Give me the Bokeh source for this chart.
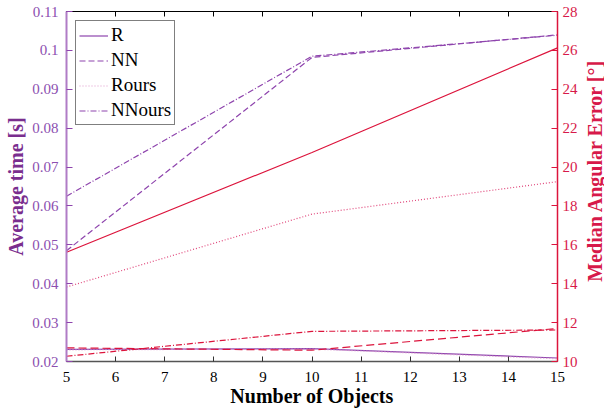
import math
from bokeh.plotting import figure
from bokeh.layouts import row
from bokeh.models import Range1d, LinearAxis, FixedTicker, Label
from bokeh.embed import file_html
from bokeh.resources import INLINE

# ---- data ----
objects = [5, 10, 15]
time_R = [0.0231, 0.0233, 0.0209]
time_NN = [0.0485, 0.0982, 0.1040]
time_Rours = [0.0230, 0.0232, 0.0207]
time_NNours = [0.0625, 0.0985, 0.1039]
err_R = [15.62, 20.75, 26.13]
err_NN = [10.70, 10.58, 11.70]
err_Rours = [13.83, 17.58, 19.25]
err_NNours = [10.27, 11.55, 11.62]

x_ticks = [5, 6, 7, 8, 9, 10, 11, 12, 13, 14, 15]
y_ticks = [0.02, 0.03, 0.04, 0.05, 0.06, 0.07, 0.08, 0.09, 0.1, 0.11]
y_tick_labels = ["0.02", "0.03", "0.04", "0.05", "0.06", "0.07", "0.08", "0.09", "0.1", "0.11"]
err_ticks = [10, 12, 14, 16, 18, 20, 22, 24, 26, 28]
right_title = "Median Angular Error [°]"

PURPLE = "#8e44ad"
PURPLE_TXT = "#8c4fb0"
PURPLE_TITLE = "#7a2e8e"
PURPLE_AXIS = "#b07cc6"
PINK = "#dd99cc"
CRIMSON = "#dc143c"
CRIMSON_DOT = "#e0457a"
CRIMSON_TXT = "#d7194a"
FONT = "Liberation Serif"

p = figure(width=580, height=412, x_range=Range1d(5, 15), y_range=Range1d(0.02, 0.11),
           output_backend="svg", toolbar_location=None,
           min_border_left=66, min_border_right=22, min_border_top=11, min_border_bottom=51)
p.extra_y_ranges = {"err": Range1d(10, 28)}
p.outline_line_color = None
p.xgrid.grid_line_color = None
p.ygrid.grid_line_color = None
p.background_fill_color = "white"
p.border_fill_color = "white"

# time lines (left axis)
p.line(objects, time_R, line_color=PURPLE, line_width=1.2, legend_label="R")
p.line(objects, time_NN, line_color=PURPLE, line_width=1.2, line_dash="6 3", legend_label="NN")
p.line(objects, time_Rours, line_color=PINK, line_width=1.2, line_dash="1 2", legend_label="Rours")
p.line(objects, time_NNours, line_color=PURPLE, line_width=1.2, line_dash="6 2 1 2", legend_label="NNours")

# error lines (right axis)
p.line(objects, err_R, line_color=CRIMSON, line_width=1.2, y_range_name="err")
p.line(objects, err_NN, line_color=CRIMSON, line_width=1.2, line_dash="8 4", y_range_name="err")
p.line(objects, err_Rours, line_color=CRIMSON_DOT, line_width=1.2, line_dash="1 2", y_range_name="err")
p.line(objects, err_NNours, line_color=CRIMSON, line_width=1.2, line_dash="6 2 1 2", y_range_name="err")

# x axis
xa = p.xaxis[0]
xa.ticker = FixedTicker(ticks=x_ticks)
xa.axis_label = "Number of Objects"
xa.axis_label_text_font = FONT
xa.axis_label_text_font_style = "bold"
xa.axis_label_text_font_size = "20px"
xa.axis_label_text_color = "black"
xa.axis_label_standoff = 0
xa.major_label_text_font = FONT
xa.major_label_text_font_size = "15px"
xa.major_label_text_color = "black"
xa.major_label_standoff = 10
xa.major_tick_in = 5
xa.major_tick_out = 0
xa.major_tick_line_color = "#333333"
xa.minor_tick_line_color = None
xa.axis_line_color = "#555555"
xa.axis_line_width = 1.5

# left axis
ya = p.yaxis[0]
ya.ticker = FixedTicker(ticks=y_ticks)
ya.major_label_overrides = {t: s for t, s in zip(y_ticks, y_tick_labels)}
ya.axis_label = "Average time [s]"
ya.axis_label_text_font = FONT
ya.axis_label_text_font_style = "bold"
ya.axis_label_text_font_size = "20px"
ya.axis_label_text_color = PURPLE_TITLE
ya.axis_label_standoff = 2
ya.major_label_text_font = FONT
ya.major_label_text_font_size = "15px"
ya.major_label_text_color = PURPLE_TXT
ya.major_label_standoff = 8
ya.major_tick_in = 6
ya.major_tick_out = 0
ya.major_tick_line_color = PURPLE
ya.minor_tick_line_color = None
ya.axis_line_color = PURPLE_AXIS
ya.axis_line_width = 2

# right axis
ra = LinearAxis(y_range_name="err", ticker=FixedTicker(ticks=err_ticks))
ra.major_label_text_font = FONT
ra.major_label_text_font_size = "15px"
ra.major_label_text_color = CRIMSON_TXT
ra.major_label_standoff = 5
ra.major_tick_in = 6
ra.major_tick_out = 0
ra.major_tick_line_color = CRIMSON
ra.minor_tick_line_color = None
ra.axis_line_color = CRIMSON
ra.axis_line_width = 1.5
p.add_layout(ra, "right")

# top axis (frame line with inward ticks, no labels)
ta = LinearAxis(ticker=FixedTicker(ticks=x_ticks))
ta.major_label_overrides = {t: "" for t in x_ticks}
ta.major_label_text_font_size = "1px"
ta.major_label_text_color = None
ta.major_label_standoff = 0
ta.major_tick_in = 5
ta.major_tick_out = 0
ta.major_tick_line_color = "black"
ta.minor_tick_line_color = None
ta.axis_line_color = "black"
ta.axis_line_width = 1
p.add_layout(ta, "above")

# legend
lg = p.legend[0]
lg.location = "top_left"
lg.margin = 9
lg.padding = 3
lg.spacing = 3
lg.glyph_width = 29
lg.glyph_height = 21
lg.label_height = 21
lg.label_standoff = 3
lg.label_text_font = FONT
lg.label_text_font_size = "19px"
lg.label_text_color = "black"
lg.border_line_color = "black"
lg.border_line_width = 1
lg.background_fill_color = "white"
lg.background_fill_alpha = 1.0

# narrow strip on the right holding the right-axis title (reads bottom-to-top)
p2 = figure(width=24, height=412, x_range=Range1d(0, 24), y_range=Range1d(0, 412),
            output_backend="svg", toolbar_location=None,
            min_border_left=0, min_border_right=0, min_border_top=0, min_border_bottom=0)
p2.axis.visible = False
p2.xgrid.grid_line_color = None
p2.ygrid.grid_line_color = None
p2.outline_line_color = None
p2.background_fill_color = "white"
p2.border_fill_color = "white"
p2.add_layout(Label(x=14, y=225, text=right_title, angle=math.pi / 2,
                    text_align="center", text_baseline="middle",
                    text_font=FONT, text_font_style="bold", text_font_size="20px",
                    text_color=CRIMSON_TXT))

layout = row(p, p2, spacing=0)
open("out.html", "w").write(file_html(layout, INLINE))
